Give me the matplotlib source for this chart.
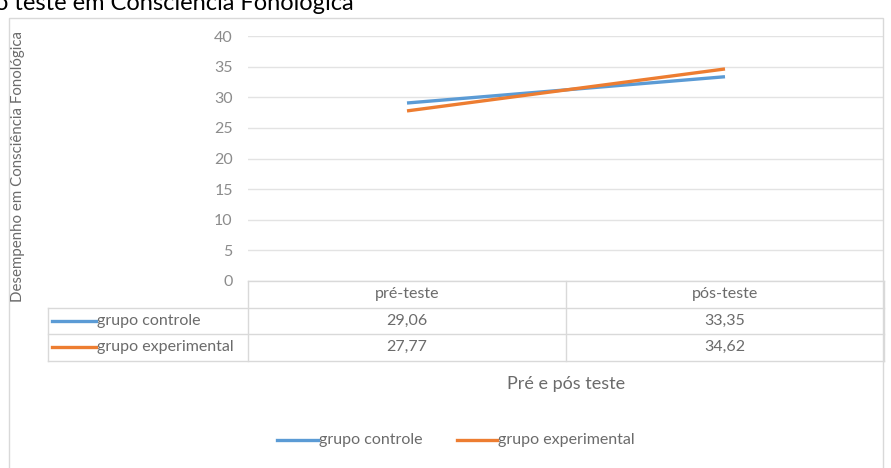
import matplotlib
matplotlib.use("Agg")
import matplotlib.pyplot as plt
from matplotlib.lines import Line2D
from matplotlib.patches import Rectangle

plt.rcParams['font.family'] = ['Lato', 'DejaVu Sans']

categories = ['pré-teste', 'pós-teste']
series_names = ['grupo controle', 'grupo experimental']
controle = [29.06, 33.35]
experimental = [27.77, 34.62]
colors = ['#5B9BD5', '#ED7D31']
y_ticks = [0, 5, 10, 15, 20, 25, 30, 35, 40]

W, H = 891, 468
fig = plt.figure(figsize=(W / 100, H / 100), dpi=100)
fig.patch.set_facecolor('white')


def fx(px):
    return px / W


def fy(py):
    return 1 - py / H


# chart frame
fig.patches.append(Rectangle((fx(9), fy(470)), fx(874), fy(18) - fy(470),
                             transform=fig.transFigure, fill=False,
                             edgecolor='#d9d9d9', linewidth=1))

# caption above the chart (cut by the page edge)
fig.text(fx(-5), fy(10), 'ó teste em Consciência Fonológica', fontsize=17,
         color='black', ha='left', va='baseline')

left, right, top, bottom = 248, 884, 36, 281
ax = fig.add_axes([fx(left), fy(bottom), fx(right - left), fy(top) - fy(bottom)])
ax.set_xlim(-0.5, 1.5)
ax.set_ylim(0, 40)
ax.set_yticks(y_ticks)
ax.set_yticklabels([str(v) for v in y_ticks], color='#8c8c8c', fontsize=11.5)
ax.tick_params(axis='y', length=0, pad=11)
ax.set_xticks([])
for s in ax.spines.values():
    s.set_visible(False)
ax.grid(axis='y', color='#e3e3e3', linewidth=1)
ax.set_axisbelow(True)

x = list(range(len(categories)))
for vals, c in zip([controle, experimental], colors):
    ax.plot(x, vals, color=c, linewidth=2.4, solid_capstyle='butt', zorder=3)

# data table under the plot
row_h = 26.5
hdr_top = bottom
rows_top = hdr_top + row_h
table_bottom = rows_top + row_h * 2
col_mid = (left + right) / 2
grid_kw = dict(color='#d9d9d9', linewidth=1, transform=fig.transFigure)
txt = '#6b6b6b'

fig.add_artist(Line2D([fx(left), fx(right)], [fy(hdr_top), fy(hdr_top)], **grid_kw))
for i in range(3):
    yy = rows_top + i * row_h
    fig.add_artist(Line2D([fx(48), fx(right)], [fy(yy), fy(yy)], **grid_kw))
fig.add_artist(Line2D([fx(left), fx(left)], [fy(hdr_top), fy(table_bottom)], **grid_kw))
fig.add_artist(Line2D([fx(col_mid), fx(col_mid)], [fy(hdr_top), fy(table_bottom)], **grid_kw))
fig.add_artist(Line2D([fx(right), fx(right)], [fy(hdr_top), fy(table_bottom)], **grid_kw))
fig.add_artist(Line2D([fx(48), fx(48)], [fy(rows_top), fy(table_bottom)], **grid_kw))

col_centers = [(left + col_mid) / 2, (col_mid + right) / 2]
for cx, cat in zip(col_centers, categories):
    fig.text(fx(cx), fy(hdr_top + row_h / 2), cat, ha='center', va='center',
             fontsize=11.5, color=txt)

for r, (name, vals, c) in enumerate(zip(series_names, [controle, experimental], colors)):
    yc = rows_top + row_h * (r + 0.5)
    fig.add_artist(Line2D([fx(52), fx(96)], [fy(yc), fy(yc)], color=c,
                          linewidth=2.4, transform=fig.transFigure))
    fig.text(fx(97), fy(yc), name, ha='left', va='center', fontsize=11.5, color=txt)
    for cx, v in zip(col_centers, vals):
        fig.text(fx(cx), fy(yc), f'{v:.2f}'.replace('.', ','), ha='center',
                 va='center', fontsize=11.5, color=txt)

# axis titles
fig.text(fx(566), fy(384), 'Pré e pós teste', ha='center', va='center',
         fontsize=13, color=txt)
fig.text(fx(18), fy(166), 'Desempenho em Consciência Fonológica', rotation=90,
         ha='center', va='center', fontsize=10.8, color=txt)

# legend at the bottom
leg_y = 440
leg_items = [(277, 318), (457, 497)]
for (x0, x1), name, c in zip(leg_items, series_names, colors):
    fig.add_artist(Line2D([fx(x0), fx(x1)], [fy(leg_y), fy(leg_y)], color=c,
                          linewidth=2.4, transform=fig.transFigure))
    fig.text(fx(x1 + 1), fy(leg_y), name, ha='left', va='center', fontsize=11.5,
             color=txt)

fig.savefig('out.png', dpi=100)
